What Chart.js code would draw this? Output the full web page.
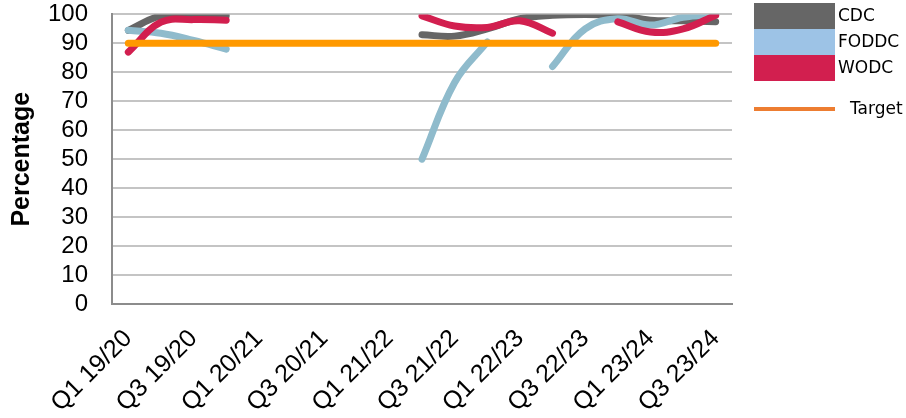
<!DOCTYPE html>
<html>
<head>
<meta charset="utf-8">
<script src="https://cdn.jsdelivr.net/npm/chart.js@4"></script>
<style>
    html, body { margin: 0; padding: 0; background: #ffffff; }
    #wrap { width: 906px; height: 418px; }
</style>
</head>
<body>
<div id="wrap"><canvas id="pct-chart" width="906" height="418"></canvas></div>
<script>
// quarters, only Q1 and Q3 get a visible label
const quarters = [
    'Q1 19/20', 'Q2 19/20', 'Q3 19/20', 'Q4 19/20',
    'Q1 20/21', 'Q2 20/21', 'Q3 20/21', 'Q4 20/21',
    'Q1 21/22', 'Q2 21/22', 'Q3 21/22', 'Q4 21/22',
    'Q1 22/23', 'Q2 22/23', 'Q3 22/23', 'Q4 22/23',
    'Q1 23/24', 'Q2 23/24', 'Q3 23/24'
];

const cdcValues   = [94.5, 99.5, 99.5, 99.5, null, null, null, null, null, 93, 92.5, 95, 98.5, 99.7, 100, 99.7, 98, 97.8, 97.5];
const foddcValues = [94.5, 93.5, 91, 88, null, null, null, null, null, 50, 76.5, 90.5, null, 82, 95, 98.5, 96.3, 99, 100];
const wodcValues  = [87, 97.3, 98.2, 98, null, null, null, null, null, 99.5, 96, 95.5, 97.8, 93.5, null, 97.4, 93.9, 95, 99.7];
const targetValues = [90, 90, 90, 90, 90, 90, 90, 90, 90, 90, 90, 90, 90, 90, 90, 90, 90, 90, 90];

const yTicks = [0, 10, 20, 30, 40, 50, 60, 70, 80, 90, 100];

// legend on the right, boxes sit flush on top of each other
const legendPlugin = {
    id: 'sideLegend',
    afterDraw(chart) {
        const ctx = chart.ctx;
        const boxes = [
            { text: 'CDC', color: '#666666' },
            { text: 'FODDC', color: '#9DC3E6' },
            { text: 'WODC', color: '#D21F4F' }
        ];
        const x0 = 754, w = 81, h = 26;
        let y = 3;
        ctx.save();
        ctx.font = '17px "DejaVu Sans"';
        ctx.textBaseline = 'middle';
        boxes.forEach(b => {
            ctx.fillStyle = b.color;
            ctx.fillRect(x0, y, w, h);
            ctx.fillStyle = '#000';
            ctx.fillText(b.text, x0 + w + 3, y + h / 2 + 1);
            y += h;
        });
        ctx.strokeStyle = '#ED7D31';
        ctx.lineWidth = 4;
        ctx.beginPath();
        ctx.moveTo(x0, 109);
        ctx.lineTo(x0 + w, 109);
        ctx.stroke();
        ctx.fillStyle = '#000';
        ctx.fillText('Target', x0 + w + 15, 110);
        ctx.restore();
    }
};

function lineSet(label, data, color, order) {
    return {
        label: label,
        data: data,
        borderColor: color,
        backgroundColor: color,
        borderWidth: 7,
        pointRadius: 0,
        tension: 0.4,
        borderCapStyle: 'round',
        borderJoinStyle: 'round',
        spanGaps: false,
        fill: false,
        clip: 0,
        order: order
    };
}

function setupChart() {
    const canvas = document.getElementById('pct-chart');
    const ctx = canvas.getContext('2d');
    const config = {
        type: 'line',
        data: {
            labels: quarters,
            datasets: [
                lineSet('CDC', cdcValues, '#666666', 3),
                lineSet('FODDC', foddcValues, '#8FBBCC', 2),
                lineSet('WODC', wodcValues, '#D21F4F', 1),
                lineSet('Target', targetValues, '#FF9900', 0)
            ]
        },
        options: {
            responsive: false,
            animation: false,
            layout: { padding: { left: 0, right: 174, top: 0, bottom: 0 } },
            plugins: {
                legend: { display: false },
                tooltip: { enabled: false }
            },
            scales: {
                x: {
                    offset: true,
                    grid: { display: false, drawTicks: false },
                    border: { display: true, color: '#8c8c8c', width: 2 },
                    ticks: {
                        autoSkip: false,
                        maxRotation: 45,
                        minRotation: 45,
                        padding: 20,
                        color: '#000',
                        font: { family: '"Liberation Sans", Arial', size: 25 },
                        callback: function(value, index) {
                            return index % 2 === 0 ? quarters[index] : '';
                        }
                    },
                    afterFit: function(scale) { scale.height = 114; }
                },
                y: {
                    min: 0,
                    max: 100,
                    afterBuildTicks: function(scale) {
                        scale.ticks = yTicks.map(v => ({ value: v }));
                    },
                    grid: {
                        color: '#c4c4c4',
                        lineWidth: 2,
                        drawTicks: true,
                        tickLength: 24,
                        tickColor: 'rgba(0,0,0,0)'
                    },
                    border: { display: true, color: '#8c8c8c', width: 2 },
                    ticks: {
                        autoSkip: false,
                        padding: 0,
                        color: '#000',
                        font: { family: '"Liberation Sans", Arial', size: 24 }
                    },
                    title: {
                        display: true,
                        text: 'Percentage',
                        color: '#000',
                        padding: { top: 7, bottom: 0 },
                        font: { family: '"Liberation Sans", Arial', size: 25, weight: 'bold' }
                    },
                    afterFit: function(scale) { scale.width = 112; }
                }
            }
        },
        plugins: [legendPlugin]
    };
    return new Chart(ctx, config);
}

const pctChart = setupChart();
</script>
</body>
</html>
